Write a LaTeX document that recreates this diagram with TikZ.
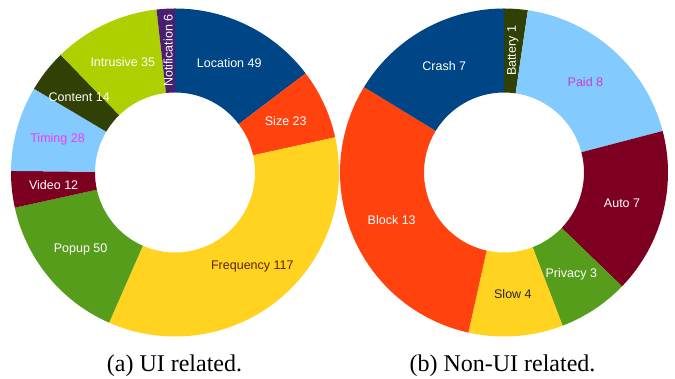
\documentclass[tikz,border=0pt]{standalone}
\usepackage{fontspec}
\setmainfont{Liberation Serif}
\setsansfont{Liberation Sans}

% one piece of a ring: start angle, end angle, colour
\newcommand{\ringpart}[3]{\fill[#3] (#1:164pt) arc[start angle=#1, end angle=#2, radius=164pt] -- (#2:80pt) arc[start angle=#2, end angle=#1, radius=80pt] -- cycle;}

\definecolor{cblue}{HTML}{004586}
\definecolor{corange}{HTML}{FF420E}
\definecolor{cyellow}{HTML}{FFD320}
\definecolor{cgreen}{HTML}{579D1C}
\definecolor{cred}{HTML}{7E0021}
\definecolor{csky}{HTML}{83CAFF}
\definecolor{colive}{HTML}{314004}
\definecolor{clime}{HTML}{AECF00}
\definecolor{cpurple}{HTML}{4B1F6F}
\definecolor{cpink}{HTML}{F03CF8}
\definecolor{cmauve}{HTML}{C83CD2}
\definecolor{cbrown}{HTML}{5A2410}

\begin{document}
\begin{tikzpicture} [x=1pt, y=1pt, slice/.style={text=white, font=\sffamily\fontsize{12.5}{14}\selectfont, inner sep=0pt}, caption/.style={anchor=base, font=\fontsize{24}{28}\selectfont, inner sep=0pt}]
  \useasboundingbox (0,0) rectangle (675,379);
  %% UI related
  \begin{scope}[shift={(175,206.5)}]
    \ringpart{90}{37.19}{cblue}
    \ringpart{37.19}{12.40}{corange}
    \ringpart{12.40}{-113.71}{cyellow}
    \ringpart{-113.71}{-167.60}{cgreen}
    \ringpart{-167.60}{-180.54}{cred}
    \ringpart{-180.54}{-210.72}{csky}
    \ringpart{-210.72}{-225.81}{colive}
    \ringpart{-225.81}{-263.53}{clime}
    \ringpart{-263.53}{-270}{cpurple}
    % labels
    \node [slice] (location) at (63.59:122pt) {Location 49};
    \node [slice] (size) at (24.79:122pt) {Size 23};
    \node [slice, text=cbrown] (frequency) at (-50.66:122pt) {Frequency 117};
    \node [slice] (popup) at (-140.66:122pt) {Popup 50};
    \node [slice] (video) at (-174.07:122pt) {Video 12};
    \node [slice, text=cpink] (timing) at (-195.63:122pt) {Timing 28};
    \node [slice] (content) at (-218.26:122pt) {Content 14};
    \node [slice] (intrusive) at (-244.67:122pt) {Intrusive 35};
    \node [slice, rotate=90] (notification) at (-266.77:122pt) {Notification 6};
  \end{scope}
  %% Non-UI related
  \begin{scope}[shift={(504,206.5)}]
    \ringpart{90}{81.63}{colive}
    \ringpart{81.63}{14.65}{csky}
    \ringpart{14.65}{-43.95}{cred}
    \ringpart{-43.95}{-69.07}{cgreen}
    \ringpart{-69.07}{-102.56}{cyellow}
    \ringpart{-102.56}{-211.40}{corange}
    \ringpart{-211.40}{-270}{cblue}
    % labels
    \node [slice, rotate=90] (battery) at (85.81:122pt) {Battery 1};
    \node [slice, text=cmauve] (paid) at (48.14:122pt) {Paid 8};
    \node [slice] (auto) at (-14.65:122pt) {Auto 7};
    \node [slice] (privacy) at (-56.51:122pt) {Privacy 3};
    \node [slice, text=black!85] (slow) at (-85.81:122pt) {Slow 4};
    \node [slice] (block) at (-156.98:122pt) {Block 13};
    \node [slice] (crash) at (-240.70:122pt) {Crash 7};
  \end{scope}
  % captions
  \node [caption] (capa) at (174.5,7) {(a) UI related.};
  \node [caption] (capb) at (502.5,7) {(b) Non-UI related.};
\end{tikzpicture}
\end{document}
